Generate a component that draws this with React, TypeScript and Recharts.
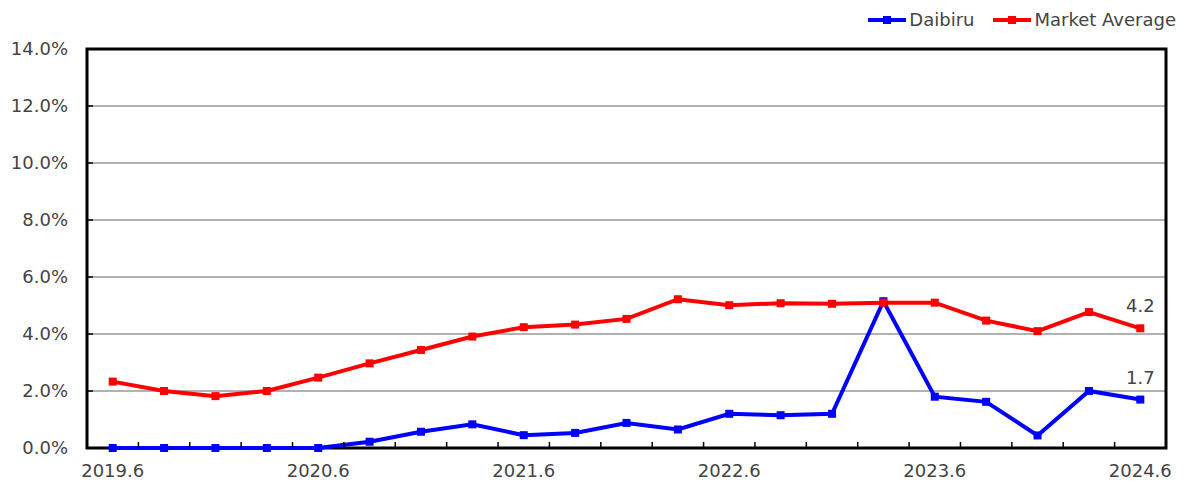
import { LineChart, Line, XAxis, YAxis, CartesianGrid, Legend, ReferenceArea, LabelList } from 'recharts'

const periods = [
  '2019.6', '2019.9', '2019.12', '2020.3',
  '2020.6', '2020.9', '2020.12', '2021.3',
  '2021.6', '2021.9', '2021.12', '2022.3',
  '2022.6', '2022.9', '2022.12', '2023.3',
  '2023.6', '2023.9', '2023.12', '2024.3',
  '2024.6',
]
const daibiru = [0, 0, 0, 0, 0, 0.22, 0.57, 0.83, 0.45, 0.53, 0.88, 0.65, 1.2, 1.15, 1.2, 5.15, 1.8, 1.62, 0.44, 2.0, 1.7]
const marketAverage = [2.33, 2.0, 1.82, 2.0, 2.47, 2.97, 3.44, 3.91, 4.24, 4.33, 4.53, 5.22, 5.01, 5.08, 5.06, 5.1, 5.1, 4.47, 4.1, 4.77, 4.2]
const yTicks = [0, 2, 4, 6, 8, 10, 12, 14]

const data = periods.map((p, i) => ({ period: p, daibiru: daibiru[i], market: marketAverage[i] }))

const FONT = '"DejaVu Sans", sans-serif'
const TEXT = '#444'
const BAND = 1079 / periods.length

// eslint-disable-next-line @typescript-eslint/no-explicit-any
function XTick(props: any) {
  const { x, y, payload, index } = props
  const showLabel = payload.value.endsWith('.6')
  return (
    <g>
      {index < periods.length - 1 && (
        <line x1={x + BAND / 2} x2={x + BAND / 2} y1={y} y2={y - 6} stroke="#000" strokeWidth={1.5} />
      )}
      {showLabel && (
        <text x={x} y={y + 29} textAnchor="middle" fill={TEXT} fontSize={18} fontFamily={FONT}>
          {payload.value}
        </text>
      )}
    </g>
  )
}

// eslint-disable-next-line @typescript-eslint/no-explicit-any
function YTick(props: any) {
  const { x, y, payload } = props
  return (
    <g>
      <line x1={x} x2={x + 6} y1={y} y2={y} stroke="#000" strokeWidth={1.5} />
      <text x={x - 19} y={y + 6} textAnchor="end" fill={TEXT} fontSize={18} fontFamily={FONT}>
        {payload.value.toFixed(1)}%
      </text>
    </g>
  )
}

// eslint-disable-next-line @typescript-eslint/no-explicit-any
function SquareDot(props: any) {
  const { cx, cy, stroke } = props
  if (cx == null || cy == null) return null
  return <rect x={cx - 4} y={cy - 4} width={8} height={8} fill={stroke} />
}

// eslint-disable-next-line @typescript-eslint/no-explicit-any
function LastLabel(props: any) {
  const { x, y, value, index } = props
  if (index !== periods.length - 1) return null
  return (
    <text x={x} y={y - 16} textAnchor="middle" fill={TEXT} fontSize={18} fontFamily={FONT}>
      {value.toFixed(1)}
    </text>
  )
}

function LegendContent() {
  const items = [
    { name: 'Daibiru', color: '#0000ff' },
    { name: 'Market Average', color: '#ff0000' },
  ]
  return (
    <div style={{ display: 'flex', gap: 18, fontFamily: FONT, fontSize: 18, color: TEXT, height: 19, lineHeight: '19px' }}>
      {items.map((it) => (
        <div key={it.name} style={{ display: 'flex', alignItems: 'center' }}>
          <svg width={40} height={10} style={{ marginRight: 2 }}>
            <line x1={1} x2={39} y1={5} y2={5} stroke={it.color} strokeWidth={4} />
            <rect x={16} y={1} width={8} height={8} fill={it.color} />
          </svg>
          <span>{it.name}</span>
        </div>
      ))}
    </div>
  )
}

export default function App() {
  return (
    <div style={{ position: 'absolute', left: 0, top: 0, background: '#fff' }}>
      <LineChart width={1184} height={486} data={data} margin={{ top: 30, right: 18, bottom: 8, left: 7 }}>
        <CartesianGrid vertical={false} stroke="#999" strokeWidth={1.5} />
        <XAxis
          dataKey="period"
          scale="band"
          interval={0}
          tickSize={0}
          tickMargin={0}
          axisLine={false}
          tick={XTick}
          height={30}
        />
        <YAxis
          domain={[0, 14]}
          ticks={yTicks}
          tickSize={0}
          tickMargin={0}
          axisLine={false}
          tick={YTick}
          width={80}
        />
        <Legend
          verticalAlign="top"
          align="right"
          height={19}
          content={LegendContent}
          wrapperStyle={{ top: 10, right: 8, width: 'auto', left: 'auto' }}
        />
        <ReferenceArea y1={0} y2={14} fill="none" stroke="#000" strokeWidth={3} ifOverflow="visible" />
        <Line
          dataKey="daibiru"
          name="Daibiru"
          stroke="#0000ff"
          strokeWidth={4}
          dot={SquareDot}
          activeDot={false}
          isAnimationActive={false}
        >
          <LabelList dataKey="daibiru" content={LastLabel} />
        </Line>
        <Line
          dataKey="market"
          name="Market Average"
          stroke="#ff0000"
          strokeWidth={4}
          dot={SquareDot}
          activeDot={false}
          isAnimationActive={false}
        >
          <LabelList dataKey="market" content={LastLabel} />
        </Line>
      </LineChart>
    </div>
  )
}
